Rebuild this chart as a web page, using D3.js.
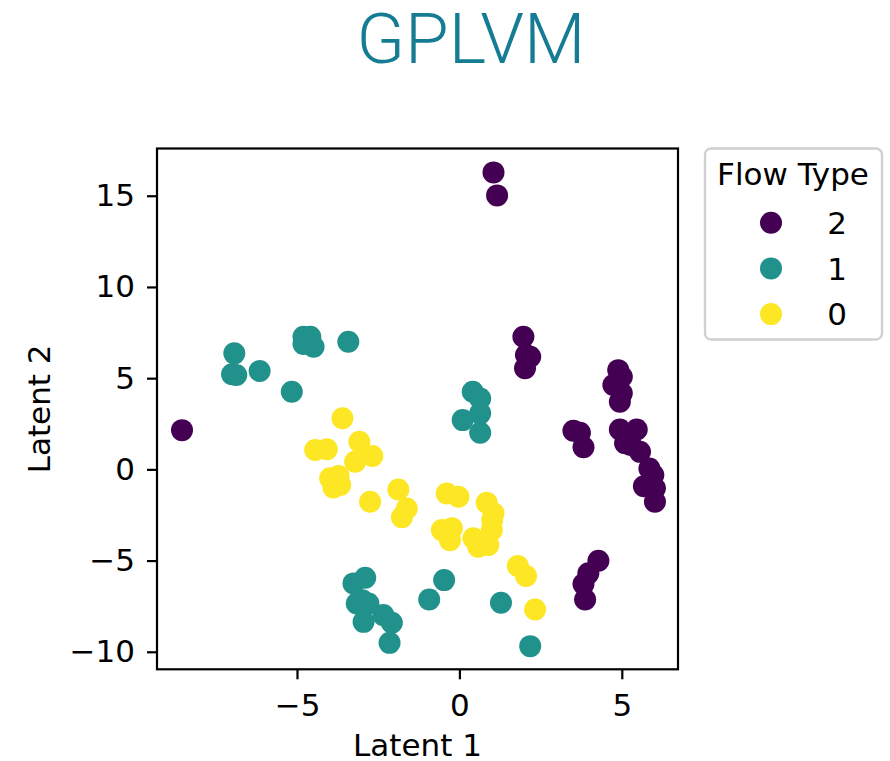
<!DOCTYPE html>
<html>
<head>
<meta charset="utf-8">
<script src="https://cdn.jsdelivr.net/npm/d3@7"></script>
<style>
  html, body { margin: 0; padding: 0; background: #ffffff; }
  svg { display: block; }
</style>
</head>
<body>
<div id="chart"></div>
<script>
// Latent coordinates per flow type: [Latent 1, Latent 2]
const flowType2 = [
  [-8.54, 2.15], [1.05, 16.28], [1.16, 15.02], [1.97, 7.27], [2.18, 6.17],
  [2.05, 6.27], [2.02, 5.54], [4.89, 5.44], [5.00, 5.08], [4.74, 4.62],
  [5.00, 4.17], [4.94, 3.71], [3.51, 2.12], [3.71, 2.01], [3.82, 1.21],
  [4.94, 2.19], [5.46, 2.19], [5.10, 1.43], [5.28, 1.34], [5.56, 0.96],
  [5.85, 0.05], [5.97, -0.31], [5.68, -0.92], [6.02, -1.04], [6.02, -1.78],
  [4.28, -5.01], [3.97, -5.70], [3.82, -6.29], [3.87, -7.13]
];
const flowType1 = [
  [-6.93, 6.36], [-7.00, 5.21], [-6.87, 5.17], [-6.15, 5.39], [-5.16, 4.25],
  [-4.80, 7.27], [-4.59, 7.27], [-4.80, 6.87], [-4.49, 6.72], [-3.42, 7.00],
  [0.41, 4.25], [0.64, 3.89], [0.64, 3.07], [0.10, 2.70], [0.64, 2.01],
  [-3.26, -6.25], [-2.90, -5.94], [-3.16, -7.35], [-2.80, -7.35], [-2.99, -7.17],
  [-2.95, -8.36], [-2.34, -7.99], [-2.08, -8.41], [-2.15, -9.51],
  [-0.93, -7.13], [-0.47, -6.07], [1.28, -7.31], [2.18, -9.69]
];
const flowType0 = [
  [-3.60, 2.80], [-4.44, 1.06], [-4.08, 1.10], [-3.08, 1.51], [-3.21, 0.42],
  [-2.68, 0.73], [-3.98, -0.49], [-3.72, -0.37], [-3.88, -0.99], [-3.67, -0.86],
  [-2.75, -1.78], [-1.88, -1.10], [-1.62, -2.14], [-1.77, -2.63],
  [-0.39, -1.32], [-0.03, -1.50], [-0.54, -3.33], [-0.23, -3.23], [-0.29, -3.88],
  [0.43, -3.78], [0.58, -4.24], [0.89, -4.15], [1.00, -3.33], [0.84, -1.83],
  [1.05, -2.41], [1.01, -2.78], [1.80, -5.30], [2.05, -5.85], [2.33, -7.68]
];

const legendLabels = ["2", "1", "0"];
const seriesColors = ["#440154", "#21918c", "#fde725"];
const xTicks = [-5, 0, 5];
const yTicks = [-10, -5, 0, 5, 10, 15];

const W = 890, H = 761;
const plot = { left: 157, right: 678, top: 148.5, bottom: 669.3 };
const font = "'DejaVu Sans', sans-serif";
const fs = 31;

const svg = d3.select("#chart").append("svg")
  .attr("width", W).attr("height", H);

const x = d3.scaleLinear().domain([-9.31, 6.73]).range([plot.left, plot.right]);
const y = d3.scaleLinear().domain([-10.96, 17.59]).range([plot.bottom, plot.top]);

// Title
svg.append("text")
  .attr("x", 471).attr("y", 62.7)
  .attr("text-anchor", "middle")
  .attr("font-family", "Roboto, sans-serif")
  .attr("font-weight", 300)
  .attr("font-size", 71)
  .attr("fill", "#167c94")
  .text("GPLVM");

// Points, drawn in the order 2, 1, 0
const series = [flowType2, flowType1, flowType0];
const g = svg.append("g");
series.forEach((pts, i) => {
  g.selectAll(null).data(pts).enter().append("circle")
    .attr("cx", d => x(d[0]))
    .attr("cy", d => y(d[1]))
    .attr("r", 11)
    .attr("fill", seriesColors[i]);
});

// Axes
const minus = d => d < 0 ? "\u2212" + Math.abs(d) : d;
const xAxis = svg.append("g")
  .attr("transform", `translate(0,${plot.bottom})`)
  .call(d3.axisBottom(x).tickValues(xTicks).tickSize(10).tickPadding(15).tickFormat(minus));
const yAxis = svg.append("g")
  .attr("transform", `translate(${plot.left},0)`)
  .call(d3.axisLeft(y).tickValues(yTicks).tickSize(10).tickPadding(12).tickFormat(minus));
[xAxis, yAxis].forEach(a => {
  a.select(".domain").remove();
  a.selectAll(".tick line").attr("stroke", "#000").attr("stroke-width", 2.2);
  a.selectAll(".tick text").attr("font-family", font).attr("font-size", fs).attr("fill", "#000");
});

// Frame
svg.append("rect")
  .attr("x", plot.left).attr("y", plot.top)
  .attr("width", plot.right - plot.left).attr("height", plot.bottom - plot.top)
  .attr("fill", "none").attr("stroke", "#000").attr("stroke-width", 2.2);

// Axis labels
svg.append("text")
  .attr("x", (plot.left + plot.right) / 2).attr("y", 756)
  .attr("text-anchor", "middle")
  .attr("font-family", font).attr("font-size", fs)
  .text("Latent 1");
svg.append("text")
  .attr("transform", `translate(50,${(plot.top + plot.bottom) / 2}) rotate(-90)`)
  .attr("text-anchor", "middle")
  .attr("font-family", font).attr("font-size", fs)
  .text("Latent 2");

// Legend
const lg = svg.append("g");
lg.append("rect")
  .attr("x", 705).attr("y", 148.5).attr("width", 177).attr("height", 191)
  .attr("rx", 6).attr("fill", "#fff")
  .attr("stroke", "#d0d0d0").attr("stroke-width", 2.4);
lg.append("text")
  .attr("x", 793).attr("y", 185)
  .attr("text-anchor", "middle")
  .attr("font-family", font).attr("font-size", fs)
  .text("Flow Type");
legendLabels.forEach((lab, i) => {
  const cy = 222.7 + i * 45.7;
  lg.append("circle").attr("cx", 771).attr("cy", cy).attr("r", 11).attr("fill", seriesColors[i]);
  lg.append("text")
    .attr("x", 837).attr("y", cy)
    .attr("dy", "0.36em")
    .attr("text-anchor", "middle")
    .attr("font-family", font).attr("font-size", fs)
    .text(lab);
});
</script>
</body>
</html>
